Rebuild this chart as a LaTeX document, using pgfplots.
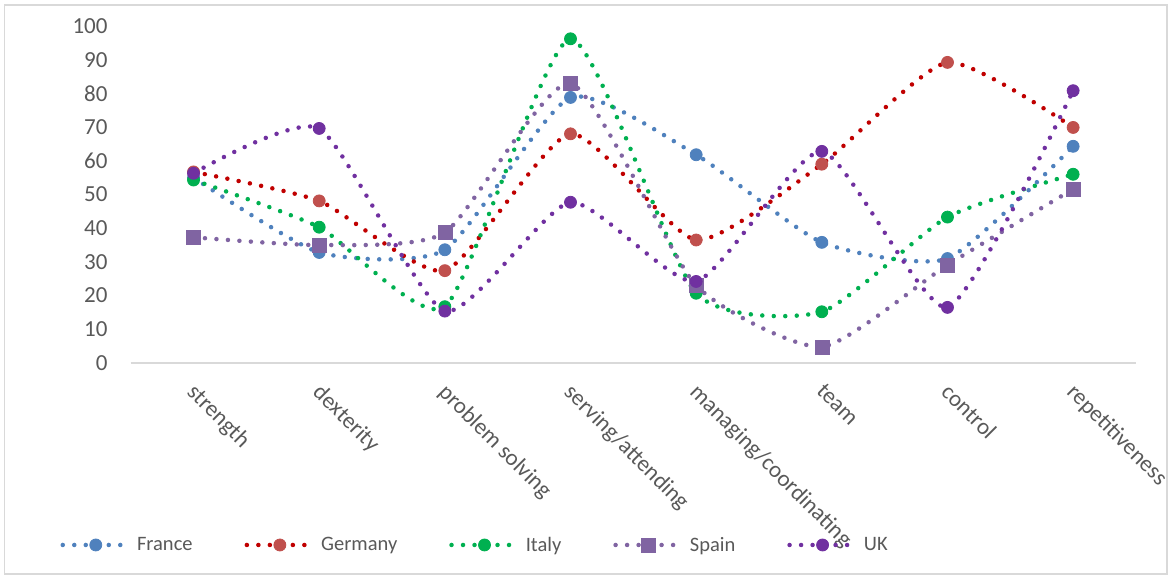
\documentclass[border=0pt]{standalone}
\usepackage{pgfplots}
\pgfplotsset{compat=1.18}
\usepackage{fontspec}
\setmainfont{Carlito}
\definecolor{cFr}{HTML}{4F81BD}
\definecolor{cDeL}{HTML}{C00000}
\definecolor{cDeM}{HTML}{C0504D}
\definecolor{cIt}{HTML}{00B050}
\definecolor{cEs}{HTML}{8064A2}
\definecolor{cUk}{HTML}{7030A0}
\definecolor{txt}{HTML}{595959}
\definecolor{axc}{HTML}{D9D9D9}
\begin{document}
\begin{tikzpicture}
\useasboundingbox (0,0) rectangle (1169pt,576pt);
\draw[axc, line width=1.2pt] (4.5pt,2pt) rectangle (1167pt,571pt);
\begin{axis}[
 at={(130.7pt,213pt)}, anchor=south west,
 scale only axis, width=1005.3pt, height=337pt,
 xmin=-0.5, xmax=7.5, ymin=0, ymax=100,
 xtick={0,...,7},
 xticklabels={strength,dexterity,problem solving,serving/attending,managing/coordinating,team,control,repetitiveness},
 ytick={0,10,...,100},
 axis line style={draw=none},
 tick style={draw=none},
 /pgf/number format/assume math mode=true,
 tick label style={font=\fontsize{23}{27}\selectfont, text=txt},
 yticklabel style={anchor=east, inner sep=0pt, xshift=-23pt},
 xticklabel style={xshift=4pt, yshift=-19pt, rotate=-45, anchor=north west, inner sep=0pt},
 clip=false,
 legend columns=5,
 legend style={at={(-0.070,-0.54)}, anchor=west, draw=none, fill=none,
   font=\fontsize{20.5}{24}\selectfont, text=txt, inner sep=0pt,
   /tikz/every odd column/.append style={column sep=4pt},
   /tikz/every even column/.append style={column sep=50pt}},
 legend image code/.code={\draw[mark repeat=2,mark phase=2] plot coordinates {(0pt,0pt) (33pt,0pt) (66pt,0pt)};},
 every axis plot/.append style={smooth, tension=0.35, line width=4.5pt, line cap=round, dash pattern=on 0pt off 11.5pt},
]
\draw[axc, line width=1.5pt] (rel axis cs:0,0) -- (rel axis cs:1,0);

\addplot[color=cFr, mark=*, mark size=6pt, mark options={solid, fill=cFr, draw=cFr, line width=0.8pt}]
 coordinates {(0,55) (1,32.8) (2,33.6) (3,78.8) (4,61.8) (5,35.8) (6,31) (7,64.3)};
\addlegendentry{France}
\addplot[color=cDeL, mark=*, mark size=6pt, mark options={solid, fill=cDeM, draw=cDeM, line width=0.8pt}]
 coordinates {(0,56.7) (1,48.1) (2,27.4) (3,68) (4,36.5) (5,59) (6,89.2) (7,69.9)};
\addlegendentry{Germany}
\addplot[color=cIt, mark=*, mark size=6pt, mark options={solid, fill=cIt, draw=cIt, line width=0.8pt}]
 coordinates {(0,54.3) (1,40.3) (2,16.7) (3,96.2) (4,20.7) (5,15.2) (6,43.3) (7,56)};
\addlegendentry{Italy}
\addplot[color=cEs, mark=square*, mark size=7pt, mark options={solid, fill=cEs, draw=cEs, line width=0.5pt}]
 coordinates {(0,37.3) (1,35) (2,38.7) (3,83) (4,23) (5,4.8) (6,29.1) (7,51.6)};
\addlegendentry{Spain}
\addplot[color=cUk, mark=*, mark size=6pt, mark options={solid, fill=cUk, draw=cUk, line width=0.8pt}]
 coordinates {(0,56.3) (1,69.6) (2,15.4) (3,47.7) (4,24.2) (5,62.8) (6,16.5) (7,80.8)};
\addlegendentry{UK}
\end{axis}
\end{tikzpicture}
\end{document}
